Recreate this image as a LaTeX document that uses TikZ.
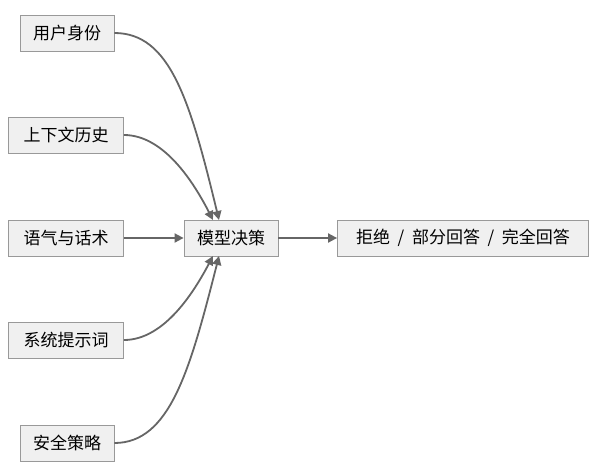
\documentclass[tikz,border=0pt]{standalone}
\usepackage{fontspec}
\newfontfamily\cjk{Noto Sans CJK SC}
\usetikzlibrary{arrows.meta}
\begin{document}
\begin{tikzpicture}[x=1pt,y=-1pt,
  box/.style={draw=black!40,fill=black!6,font=\cjk\fontsize{17}{19}\selectfont,inner sep=0pt,minimum height=36pt,line width=0.8pt},
  arr/.style={draw=black!60,line width=1.8pt,-{Triangle[length=9pt,width=9pt]}}]
\useasboundingbox (0,0) rectangle (600,474);
\node[box,minimum width=94pt] (a) at (67,33) {用户身份};
\node[box,minimum width=115pt] (b) at (66,135) {上下文历史};
\node[box,minimum width=115pt] (c) at (66,238) {语气与话术};
\node[box,minimum width=115pt] (d) at (66,340) {系统提示词};
\node[box,minimum width=94pt] (e) at (67,443) {安全策略};
\node[box,minimum width=94pt] (m) at (231,238) {模型决策};
\node[box,minimum width=251pt] (r) at (463,238) {拒绝\ \ /\ \ 部分回答\ \ /\ \ 完全回答};
\coordinate (m1) at (219,220);
\coordinate (m2) at (213,220);
\coordinate (m3) at (213,256);
\coordinate (m4) at (219,256);
\draw[arr] (a.east) .. controls (170,33) and (190,100) .. (m1);
\draw[arr] (b.east) .. controls (165,135) and (195,185) .. (m2);
\draw[arr] (c) -- (m);
\draw[arr] (d.east) .. controls (165,340) and (195,290) .. (m3);
\draw[arr] (e.east) .. controls (170,443) and (190,370) .. (m4);
\draw[arr] (m) -- (r);
\end{tikzpicture}
\end{document}
